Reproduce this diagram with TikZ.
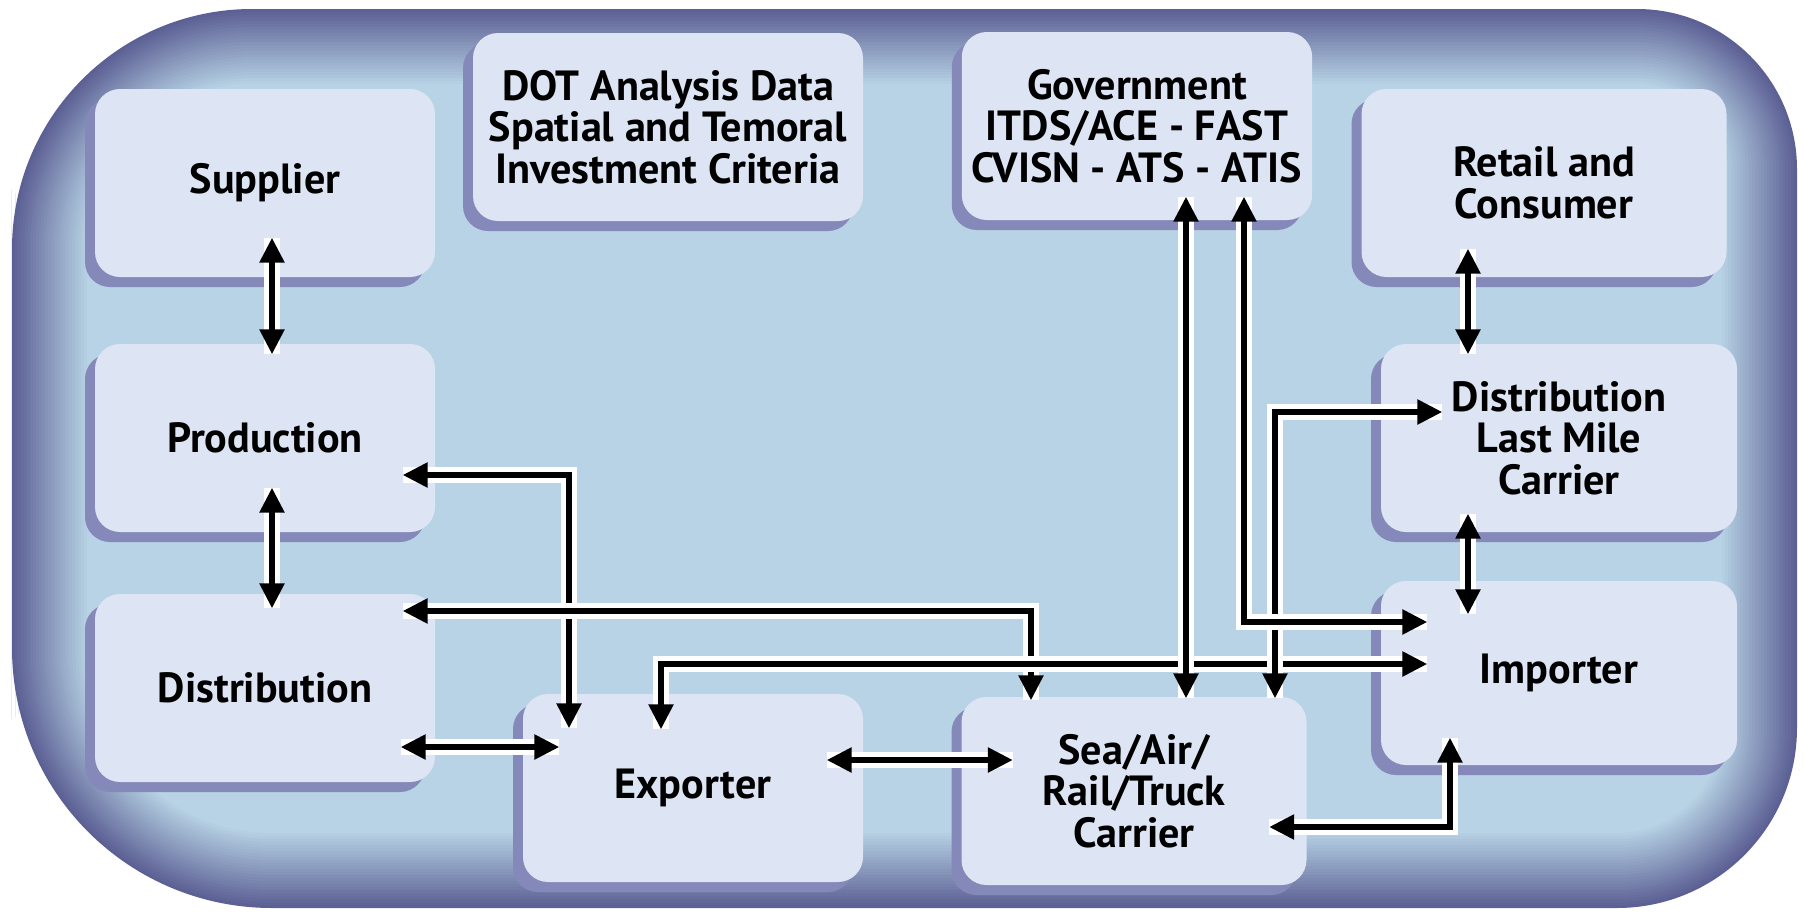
\documentclass[tikz,border=0pt]{standalone}
\usepackage{fontspec}
\setmainfont{PT Sans}
\usetikzlibrary{arrows.meta,calc,shadows}
\definecolor{framedark}{RGB}{92,96,148}
\definecolor{innerblue}{RGB}{184,211,229}
\definecolor{boxfill}{RGB}{221,229,244}
\definecolor{boxshade}{RGB}{132,137,186}

\tikzset{
  stage/.style={rectangle, rounded corners=2.5mm, fill=boxfill, align=center,
    font=\fontsize{12}{11.8}\selectfont\bfseries, minimum width=34mm, minimum height=18.8mm,
    inner sep=1mm, drop shadow={shadow xshift=-1mm, shadow yshift=-1mm, fill=boxshade, opacity=1}},
  link/.style={line width=1.6pt, {Triangle[length=2.5mm,width=2.4mm]}-{Triangle[length=2.5mm,width=2.4mm]},
    preaction={draw=white, line width=4.4pt, arrows=-}}
}

\begin{document}
\begin{tikzpicture}[x=0.1mm,y=-0.1mm]
    \useasboundingbox (0,0) rectangle (1804,914);
    % frame with soft inner edge
    \foreach \i in {0,...,25}{
        \pgfmathtruncatemacro\d{3*\i}
        \pgfmathtruncatemacro\mix{4*\i}
        \fill[innerblue!\mix!framedark] (12+\d,450) [rounded corners=24mm-0.3mm*\i] |- (900,9+\d)
            [rounded corners=16mm-0.3mm*\i] -| (1797-\d,450)
            [rounded corners=18mm-0.3mm*\i] |- (900,908-\d)
            [rounded corners=26mm-0.3mm*\i] -| (12+\d,460) -- cycle;
    }

    \node[stage] (sup) at (265,183) {Supplier};
    \node[stage] (prod) at (265,438) {Production};
    \node[stage] (dist) at (265,688) {Distribution};
    \node[stage, minimum width=39mm] (dot) at (668,127) {DOT Analysis Data\\Spatial and Temoral\\Investment Criteria};
    \node[stage, minimum width=35mm] (gov) at (1137,126) {Government\\ITDS/ACE - FAST\\CVISN - ATS - ATIS};
    \node[stage, minimum width=36.5mm] (retail) at (1544,183) {Retail and\\Consumer};
    \node[stage, minimum width=35.6mm] (lastmile) at (1559,438) {Distribution\\Last Mile\\Carrier};
    \node[stage, minimum width=35.6mm, minimum height=18.4mm] (imp) at (1559,673) {Importer};
    \node[stage] (exp) at (693,788) {Exporter};
    \node[stage, minimum width=34.5mm] (carrier) at (1134,791) {Sea/Air/\\Rail/Truck\\Carrier};

    \draw[link] ($(sup.south)+(7,-40)$) -- ($(prod.north)+(7,11)$);
    \draw[link] ($(prod.south)+(7,-45)$) -- ($(dist.north)+(7,15)$);
    \draw[link] ($(retail.south)+(-76,-29)$) -- ($(lastmile.north)+(-91,11)$);
    \draw[link] ($(lastmile.south)+(-91,-19)$) -- ($(imp.north)+(-91,34)$);
    \draw[link] ($(dist.east)+(-35,59)$) -- ($(exp.west)+(37,-41)$);
    \draw[link] ($(exp.east)+(-37,-28)$) -- ($(carrier.west)+(52,-31)$);
    \draw[link] ($(carrier.east)+(-38,36)$) -| ($(imp.south)+(-109,-28)$);
    % later lines pass over earlier ones
    \draw[link] ($(prod.east)+(-33,37)$) -| ($(exp.north)+(-124,35)$);
    \draw[link] ($(dist.east)+(-33,-77)$) -| ($(carrier.north)+(-103,4)$);
    \draw[link] ($(imp.west)+(47,-9)$) -| ($(exp.north)+(-32,36)$);
    \draw[link] ($(carrier.north)+(141,2)$) |- ($(lastmile.west)+(62,-26)$);
    \draw[link] ($(gov.south)+(107,-24)$) |- ($(imp.west)+(47,-51)$);
    \draw[link] ($(gov.south)+(49,-24)$) -- ($(carrier.north)+(52,2)$);
\end{tikzpicture}
\end{document}
